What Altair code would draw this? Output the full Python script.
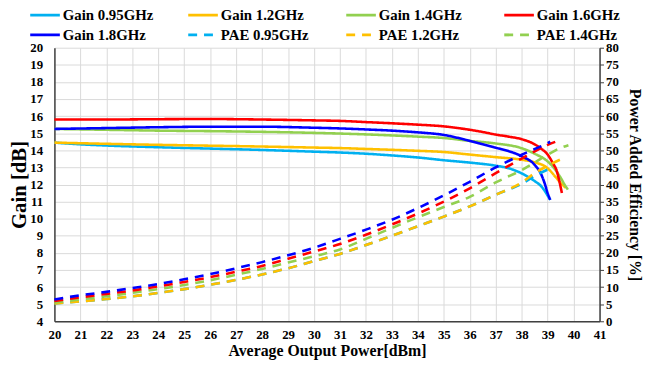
import altair as alt
import pandas as pd

FONT = "Liberation Serif, Times New Roman, Times, serif"

# ---------------- data ----------------
gain_095_x = [20, 21, 22, 24, 26, 28, 30, 31, 32, 33, 34, 35, 36, 37, 37.5, 38, 38.5, 38.75, 38.9, 39.0, 39.1]
gain_095_y = [14.45, 14.35, 14.28, 14.18, 14.1, 14.02, 13.92, 13.87, 13.8, 13.7, 13.58, 13.42, 13.28, 13.1, 12.95, 12.65, 12.2, 11.9, 11.6, 11.35, 11.1]

gain_12_x = [20, 22, 24, 26, 28, 30, 31, 32, 34, 35, 36, 37, 38, 38.5, 39, 39.3, 39.5, 39.7]
gain_12_y = [14.45, 14.38, 14.32, 14.27, 14.22, 14.16, 14.13, 14.08, 13.97, 13.9, 13.75, 13.6, 13.45, 13.3, 12.95, 12.45, 12.1, 11.8]

gain_14_x = [20, 22, 24, 26, 28, 30, 31, 32, 33, 34, 35, 36, 37, 38, 38.5, 39, 39.25, 39.5, 39.65, 39.78]
gain_14_y = [15.25, 15.2, 15.15, 15.12, 15.08, 15.02, 14.98, 14.93, 14.87, 14.8, 14.72, 14.55, 14.4, 14.12, 13.8, 13.35, 12.95, 12.4, 12.0, 11.7]

gain_16_x = [20, 22, 24, 26, 28, 30, 31, 32, 33, 34, 35, 36, 36.5, 37, 37.5, 38, 38.5, 38.75, 39, 39.2, 39.35, 39.45, 39.55]
gain_16_y = [15.8, 15.8, 15.82, 15.83, 15.8, 15.75, 15.72, 15.65, 15.58, 15.5, 15.4, 15.2, 15.07, 14.92, 14.8, 14.65, 14.35, 14.1, 13.75, 13.25, 12.8, 12.2, 11.5]

gain_18_x = [20, 22, 24, 26, 28, 30, 31, 32, 33, 34, 35, 36, 36.5, 37, 37.5, 38, 38.5, 38.75, 38.9, 39.0, 39.1]
gain_18_y = [15.25, 15.3, 15.35, 15.38, 15.38, 15.32, 15.28, 15.22, 15.15, 15.05, 14.9, 14.55, 14.35, 14.15, 13.95, 13.65, 13.15, 12.6, 12.0, 11.5, 11.1]

pae_x_base = [20, 21, 22, 23, 24, 25, 26, 27, 28, 29, 30, 31, 32, 33, 34, 35, 36, 37, 38]

pae_095_x = pae_x_base + [38.5, 39.1]
pae_095_y = [5.2, 5.8, 6.5, 7.3, 8.3, 9.4, 10.7, 12.1, 13.7, 15.5, 17.6, 19.7, 22.3, 25.0, 27.8, 30.6, 33.6, 37.0, 40.2, 42.5, 44.7]

pae_12_x = pae_x_base + [38.5, 39, 39.7]
pae_12_y = [5.2, 5.8, 6.5, 7.3, 8.3, 9.4, 10.7, 12.1, 13.7, 15.5, 17.6, 19.7, 22.3, 25.0, 27.8, 30.6, 33.6, 37.0, 40.6, 43.3, 45.5, 48.0]

pae_14_x = pae_x_base + [39, 39.5, 39.8]
pae_14_y = [5.5, 6.4, 7.3, 8.3, 9.4, 10.6, 12.0, 13.6, 15.3, 17.2, 19.0, 21.0, 24.1, 27.3, 30.4, 33.4, 36.4, 40.6, 44.2, 48.7, 50.7, 51.5]

pae_16_x = pae_x_base + [39, 39.5]
pae_16_y = [5.9, 7.0, 8.0, 9.0, 10.2, 11.5, 12.9, 14.5, 16.2, 18.3, 20.4, 22.6, 25.3, 28.3, 31.5, 35.0, 38.9, 43.3, 47.6, 51.6, 53.0]

pae_18_x = pae_x_base + [39, 39.1]
pae_18_y = [6.4, 7.6, 8.6, 9.7, 10.9, 12.3, 13.8, 15.5, 17.3, 19.3, 21.5, 24.1, 26.8, 29.7, 33.1, 36.8, 40.8, 45.0, 48.7, 52.1, 52.5]

series_names = ["Gain 0.95GHz", "Gain 1.2GHz", "Gain 1.4GHz", "Gain 1.6GHz", "Gain 1.8GHz",
                "PAE 0.95GHz", "PAE 1.2GHz", "PAE 1.4GHz", "PAE 1.6GHz", "PAE 1.8GHz"]
series_colors = ["#00B0F0", "#FFC000", "#92D050", "#FF0000", "#0000FF",
                 "#00B0F0", "#FFC000", "#92D050", "#FF0000", "#0000FF"]
legend_shown = series_names[:8]

gain_sets = [(gain_095_x, gain_095_y), (gain_12_x, gain_12_y), (gain_14_x, gain_14_y),
             (gain_16_x, gain_16_y), (gain_18_x, gain_18_y)]
pae_sets = [(pae_095_x, pae_095_y), (pae_12_x, pae_12_y), (pae_14_x, pae_14_y),
            (pae_16_x, pae_16_y), (pae_18_x, pae_18_y)]

rows = []
for name, (xs, ys) in zip(series_names[:5], gain_sets):
    for i, (a, b) in enumerate(zip(xs, ys)):
        rows.append({"x": a, "v": b, "series": name, "kind": "Gain", "order": i})
for name, (xs, ys) in zip(series_names[5:], pae_sets):
    for i, (a, b) in enumerate(zip(xs, ys)):
        rows.append({"x": a, "v": b, "series": name, "kind": "PAE", "order": i})
df = pd.DataFrame(rows)

dash_range = [[1, 0]] * 5 + [[9, 7]] * 5


def make_legend():
    # a 30px line symbol drawn in a 15px legend slot (keeps the rows compact)
    return alt.Legend(
        orient="none", legendX=-18.5, legendY=-42, columns=4, direction="horizontal",
        symbolType="M-2,0L2,0", symbolSize=225, symbolStrokeWidth=3,
        labelFont=FONT, labelFontWeight="bold", labelFontSize=15, labelColor="#000000",
        labelOffset=9, columnPadding=29, rowPadding=3, padding=0,
        values=legend_shown, title=None, gridAlign="all", labelLimit=200,
    )


color_enc = alt.Color("series:N", scale=alt.Scale(domain=series_names, range=series_colors),
                      legend=make_legend())
dash_enc = alt.StrokeDash("series:N", scale=alt.Scale(domain=series_names, range=dash_range),
                          legend=make_legend())

x_enc = alt.X(
    "x:Q",
    scale=alt.Scale(domain=[20, 41], nice=False, zero=False),
    axis=alt.Axis(
        values=list(range(20, 42)), title="Average Output Power[dBm]",
        grid=True, gridColor="#D9D9D9", gridWidth=1,
        domainColor="#404040", domainWidth=1.5, tickSize=0, labelPadding=7,
        labelFont=FONT, labelFontWeight="bold", labelFontSize=13, labelColor="#000000",
        titleFont=FONT, titleFontWeight="bold", titleFontSize=16, titleColor="#000000",
        titlePadding=2, labelFlush=False,
    ),
)

gain_layer = alt.Chart(df).transform_filter(alt.datum.kind == "Gain").mark_line(
    strokeWidth=2.6, interpolate="monotone"
).encode(
    x=x_enc,
    y=alt.Y(
        "v:Q",
        scale=alt.Scale(domain=[4, 20], nice=False, zero=False),
        axis=alt.Axis(
            values=list(range(4, 21)), title="Gain [dB]", orient="left",
            grid=True, gridColor="#D9D9D9", gridWidth=1,
            domainColor="#404040", domainWidth=1.5, tickSize=0, labelPadding=12,
            labelFont=FONT, labelFontWeight="bold", labelFontSize=13, labelColor="#000000",
            titleFont=FONT, titleFontWeight="bold", titleFontSize=21, titleColor="#000000",
            titlePadding=0, labelFlush=False,
        ),
    ),
    color=color_enc,
    strokeDash=dash_enc,
    order="order:Q",
)

pae_layer = alt.Chart(df).transform_filter(alt.datum.kind == "PAE").mark_line(
    strokeWidth=2.6, interpolate="monotone"
).encode(
    x=x_enc,
    y=alt.Y(
        "v:Q",
        scale=alt.Scale(domain=[0, 80], nice=False, zero=False),
        axis=alt.Axis(
            values=list(range(0, 81, 5)), title="Power Added Efficiency [%]", orient="right",
            grid=False, domainColor="#404040", domainWidth=1.5,
            tickSize=4, tickColor="#404040", labelPadding=2,
            labelFont=FONT, labelFontWeight="bold", labelFontSize=13, labelColor="#000000",
            titleFont=FONT, titleFontWeight="bold", titleFontSize=16, titleColor="#000000",
            titlePadding=8, labelFlush=False,
        ),
    ),
    color=color_enc,
    strokeDash=dash_enc,
    order="order:Q",
)

chart = alt.layer(gain_layer, pae_layer).resolve_scale(y="independent").properties(
    width=552, height=277,
    padding={"left": 47, "top": 38, "right": 45, "bottom": 38},
    autosize=alt.AutoSizeParams(type="none"),
    background="#FFFFFF",
).configure(font=FONT).configure_view(stroke=None)

chart.save("out.html", embed_options={"renderer": "svg", "actions": False})
